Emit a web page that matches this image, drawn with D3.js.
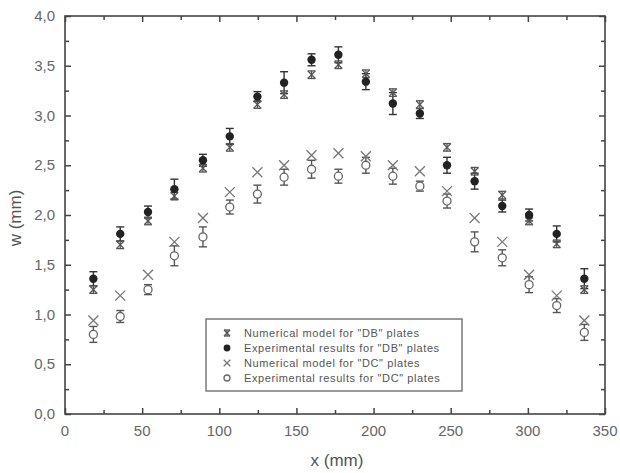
<!DOCTYPE html>
<html><head><meta charset="utf-8">
<script src="https://cdn.jsdelivr.net/npm/d3@7"></script>
<style>body{margin:0;background:#fff;}svg{display:block;}</style>
</head><body>
<svg id="c" width="620" height="473"></svg>
<script>
const xPos   = [18.4,35.8,53.8,70.9,89.4,106.8,124.7,142,159.8,177.2,195,212.5,230,247.6,265.5,283.4,300.8,318.7,336.6];
const numDB  = [1.25,1.70,1.94,2.19,2.47,2.68,3.11,3.21,3.41,3.51,3.42,3.23,3.11,2.68,2.44,2.20,1.94,1.71,1.25];
const expDB  = [1.36,1.81,2.03,2.26,2.55,2.79,3.19,3.33,3.56,3.61,3.34,3.12,3.02,2.50,2.34,2.09,2.00,1.81,1.36];
const expDBerr=[0.07,0.07,0.06,0.10,0.06,0.08,0.05,0.11,0.06,0.08,0.08,0.11,0.05,0.08,0.08,0.06,0.06,0.08,0.10];
const numDC  = [0.94,1.19,1.40,1.73,1.97,2.23,2.43,2.50,2.60,2.62,2.59,2.50,2.44,2.24,1.97,1.73,1.40,1.19,0.94];
const expDC  = [0.80,0.98,1.25,1.59,1.78,2.08,2.21,2.38,2.46,2.39,2.50,2.39,2.29,2.14,1.73,1.57,1.30,1.09,0.82];
const expDCerr=[0.08,0.06,0.05,0.10,0.10,0.07,0.09,0.08,0.09,0.07,0.08,0.08,0.05,0.07,0.10,0.08,0.08,0.07,0.08];
const xTicks = [0,50,100,150,200,250,300,350];
const yTicks = [0,0.5,1,1.5,2,2.5,3,3.5,4];
const legendLabels = ['Numerical model for "DB" plates','Experimental results for "DB" plates','Numerical model for "DC" plates','Experimental results for "DC" plates'];

const L=65,R=605,T=16,B=414;
const svg=d3.select('#c');
const x=d3.scaleLinear().domain([0,350]).range([L,R]);
const y=d3.scaleLinear().domain([0,4]).range([B,T]);
const axisCol='#444', lblCol='#666';
const fmt=d=>d3.format('.1f')(d).replace('.',',');

svg.append('rect').attr('x',L).attr('y',T).attr('width',R-L).attr('height',B-T)
  .attr('fill','none').attr('stroke',axisCol).attr('stroke-width',1.6);

function ticks(axisGen, transform, major, minor){
  const g=svg.append('g').attr('transform',transform);
  g.call(axisGen.tickValues(major).tickSize(-6).tickFormat(''));
  g.select('.domain').remove();
  const g3=svg.append('g').attr('transform',transform);
  g3.call(axisGen.tickValues(minor).tickSize(-4).tickFormat(''));
  g3.select('.domain').remove();
  svg.selectAll('.tick line').attr('stroke',axisCol).attr('stroke-width',1.5);
}
const xMinor=d3.range(25,350,50), yMinor=d3.range(0.25,4,0.5);
ticks(d3.axisBottom(x),`translate(0,${B})`,xTicks,xMinor);
ticks(d3.axisTop(x),`translate(0,${T})`,xTicks,xMinor);
ticks(d3.axisLeft(y),`translate(${L},0)`,yTicks,yMinor);
ticks(d3.axisRight(y),`translate(${R},0)`,yTicks,yMinor);

const ff='Liberation Sans, Arial, sans-serif';
svg.append('g').selectAll('text').data(xTicks).join('text')
  .attr('x',d=>x(d)).attr('y',436).attr('text-anchor','middle')
  .attr('font-family',ff).attr('font-size',15).attr('fill',lblCol).text(d=>d);
svg.append('g').selectAll('text').data(yTicks).join('text')
  .attr('x',55).attr('y',d=>y(d)+5).attr('text-anchor','end')
  .attr('font-family',ff).attr('font-size',15).attr('fill',lblCol).text(fmt);

svg.append('text').attr('x',337).attr('y',466).attr('text-anchor','middle')
  .attr('font-family',ff).attr('font-size',17).attr('fill','#555').text('x (mm)');
svg.append('text').attr('transform','translate(21,218) rotate(-90)').attr('text-anchor','middle')
  .attr('font-family',ff).attr('font-size',17).attr('fill','#555').text('w (mm)');

const plot=svg.append('g');
function errBars(vals,errs,col){
  const g=plot.append('g').attr('stroke',col).attr('stroke-width',1.4).attr('fill','none');
  vals.forEach((v,i)=>{
    const cx=x(xPos[i]), y1=y(v+errs[i]), y2=y(v-errs[i]);
    g.append('line').attr('x1',cx).attr('x2',cx).attr('y1',y1).attr('y2',y2);
    g.append('line').attr('x1',cx-4).attr('x2',cx+4).attr('y1',y1).attr('y2',y1);
    g.append('line').attr('x1',cx-4).attr('x2',cx+4).attr('y1',y2).attr('y2',y2);
  });
}
function asterisk(g,cx,cy,s,col){
  const a=g.append('g').attr('stroke',col).attr('stroke-width',1.3);
  a.append('line').attr('x1',cx-s).attr('x2',cx+s).attr('y1',cy-s).attr('y2',cy+s);
  a.append('line').attr('x1',cx-s).attr('x2',cx+s).attr('y1',cy+s).attr('y2',cy-s);
  a.append('line').attr('x1',cx).attr('x2',cx).attr('y1',cy-s).attr('y2',cy+s);
  a.append('line').attr('x1',cx-s).attr('x2',cx+s).attr('y1',cy-s).attr('y2',cy-s);
  a.append('line').attr('x1',cx-s).attr('x2',cx+s).attr('y1',cy+s).attr('y2',cy+s);
}
function cross(g,cx,cy,s,col){
  const a=g.append('g').attr('stroke',col).attr('stroke-width',1.3);
  a.append('line').attr('x1',cx-s).attr('x2',cx+s).attr('y1',cy-s).attr('y2',cy+s);
  a.append('line').attr('x1',cx-s).attr('x2',cx+s).attr('y1',cy+s).attr('y2',cy-s);
}
function filled(g,cx,cy,col,r){ g.append('circle').attr('cx',cx).attr('cy',cy).attr('r',r).attr('fill',col); }
function open(g,cx,cy,col,r){ g.append('circle').attr('cx',cx).attr('cy',cy).attr('r',r).attr('fill','#fff').attr('stroke',col).attr('stroke-width',1.3); }

errBars(expDC,expDCerr,'#555');
errBars(expDB,expDBerr,'#333');
numDC.forEach((v,i)=>cross(plot,x(xPos[i]),y(v),5,'#777'));
expDC.forEach((v,i)=>open(plot,x(xPos[i]),y(v),'#666',4));
numDB.forEach((v,i)=>asterisk(plot,x(xPos[i]),y(v),3.8,'#555'));
expDB.forEach((v,i)=>filled(plot,x(xPos[i]),y(v),'#222',4.2));

const lg=svg.append('g');
lg.append('rect').attr('x',206).attr('y',319).attr('width',256).attr('height',72)
  .attr('fill','#fff').attr('stroke','#666').attr('stroke-width',1.3);
const ly=[333,348,363,378];
asterisk(lg,227,ly[0],3,'#555');
filled(lg,227,ly[1],'#222',3.4);
cross(lg,227,ly[2],3.3,'#777');
open(lg,227,ly[3],'#666',3);
lg.selectAll('text.l').data(legendLabels).join('text').attr('class','l')
  .attr('x',244).attr('y',(d,i)=>ly[i]+4).attr('font-family',ff)
  .attr('font-size',11).attr('letter-spacing',0.6).attr('fill','#555').text(d=>d);
</script>
</body></html>
